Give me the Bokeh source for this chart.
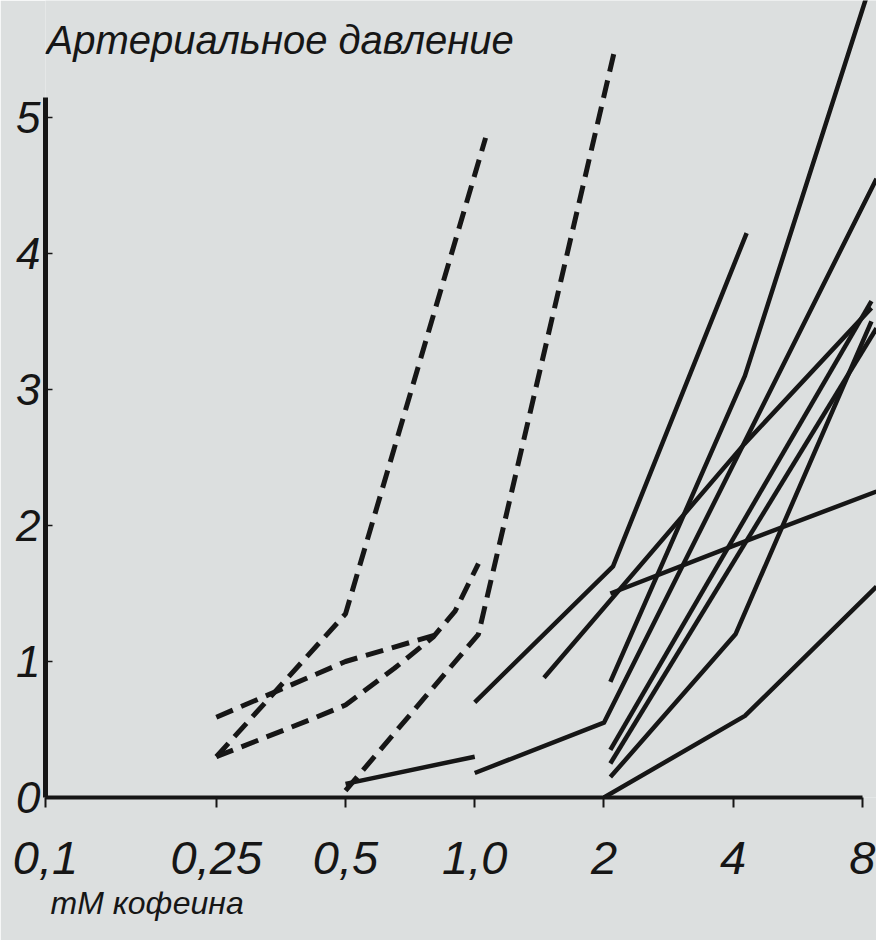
from bokeh.plotting import figure
from bokeh.models import Range1d, FixedTicker, Label, Title
from bokeh.embed import file_html
from bokeh.resources import INLINE

# ---- data ----
x_ticks = [0.1, 0.25, 0.5, 1.0, 2.0, 4.0, 8.0]
x_tick_labels = ["0,1", "0,25", "0,5", "1,0", "2", "4", "8"]
y_ticks = [0, 1, 2, 3, 4, 5]

# dashed curves (caffeine, low concentrations)
dash_a_x = [0.25, 0.5, 1.06]
dash_a_y = [0.30, 1.35, 4.85]
dash_b_x = [0.25, 0.5, 0.82]
dash_b_y = [0.59, 1.00, 1.20]
dash_c_x = [0.25, 0.42, 0.5, 0.65, 0.8, 0.9, 1.02]
dash_c_y = [0.30, 0.58, 0.68, 0.95, 1.18, 1.37, 1.72]
dash_d_x = [0.5, 1.02, 2.12]
dash_d_y = [0.05, 1.20, 5.50]

# solid curves
solid_1_x = [0.5, 1.0]
solid_1_y = [0.10, 0.30]
solid_2_x = [1.0, 2.0, 8.63]
solid_2_y = [0.18, 0.55, 4.55]
solid_3_x = [1.0, 2.1, 4.3]
solid_3_y = [0.70, 1.70, 4.15]
solid_4_x = [1.45, 4.25, 8.4]
solid_4_y = [0.88, 2.60, 3.60]
solid_5_x = [2.07, 4.26, 8.4]
solid_5_y = [0.85, 3.10, 6.00]
solid_6_x = [2.07, 4.0, 8.63]
solid_6_y = [1.50, 1.85, 2.25]
solid_7_x = [2.0, 4.26, 8.63]
solid_7_y = [0.00, 0.60, 1.55]
solid_8_x = [2.07, 4.05, 8.4]
solid_8_y = [0.15, 1.20, 3.50]
solid_9_x = [2.07, 8.4]
solid_9_y = [0.35, 3.65]
solid_10_x = [2.07, 8.63]
solid_10_y = [0.25, 3.45]

dashed = [(dash_a_x, dash_a_y), (dash_b_x, dash_b_y),
          (dash_c_x, dash_c_y), (dash_d_x, dash_d_y)]
solid = [(solid_1_x, solid_1_y), (solid_2_x, solid_2_y), (solid_3_x, solid_3_y),
         (solid_4_x, solid_4_y), (solid_5_x, solid_5_y), (solid_6_x, solid_6_y),
         (solid_7_x, solid_7_y), (solid_8_x, solid_8_y), (solid_9_x, solid_9_y),
         (solid_10_x, solid_10_y)]

BG = "#dcdfdf"
INK = "#161616"
FONT = "Liberation Sans"

p = figure(width=876, height=940, x_axis_type="log",
           x_range=Range1d(0.1, 8.63), y_range=Range1d(0, 5.86),
           output_backend="svg", toolbar_location=None,
           background_fill_color=BG, border_fill_color=BG,
           outline_line_color=None,
           min_border_left=45, min_border_right=0, min_border_top=0,
           min_border_bottom=143)

for xs, ys in dashed:
    p.line(xs, ys, line_color=INK, line_width=5, line_dash="18 9")
for xs, ys in solid:
    p.line(xs, ys, line_color=INK, line_width=4.5, line_join="round")

p.grid.visible = False

xa = p.xaxis[0]
xa.ticker = FixedTicker(ticks=x_ticks)
xa.major_label_overrides = dict(zip(x_ticks, x_tick_labels))
xa.bounds = (0.1, 8.0)
xa.axis_line_width = 4
xa.axis_line_color = INK
xa.major_tick_in = 0
xa.major_tick_out = 10
xa.major_tick_line_width = 2
xa.major_tick_line_color = INK
xa.minor_tick_line_color = None
xa.major_label_standoff = 34
xa.major_label_text_font = FONT
xa.major_label_text_font_size = "47px"
xa.major_label_text_font_style = "italic"
xa.major_label_text_color = INK

ya = p.yaxis[0]
ya.ticker = FixedTicker(ticks=y_ticks)
ya.bounds = (0, 5.15)
ya.axis_line_width = 5
ya.axis_line_color = INK
ya.major_tick_in = 7
ya.major_tick_out = 0
ya.major_tick_line_width = 1.5
ya.major_tick_line_color = INK
ya.minor_tick_line_color = None
ya.major_label_standoff = 5
ya.major_label_text_font = FONT
ya.major_label_text_font_size = "44px"
ya.major_label_text_font_style = "italic"
ya.major_label_text_color = INK

x_title = Title(text="mM кофеина", align="left", offset=5, standoff=12,
                text_font=FONT, text_font_size="32px",
                text_font_style="italic", text_color=INK)
p.add_layout(x_title, "below")

title = Label(x=0.1, y=5.86, x_offset=1, y_offset=-17,
              text="Артериальное давление", text_baseline="top",
              text_font=FONT, text_font_size="40px",
              text_font_style="italic", text_color=INK)
p.add_layout(title)

open("out.html", "w").write(file_html(p, INLINE))
